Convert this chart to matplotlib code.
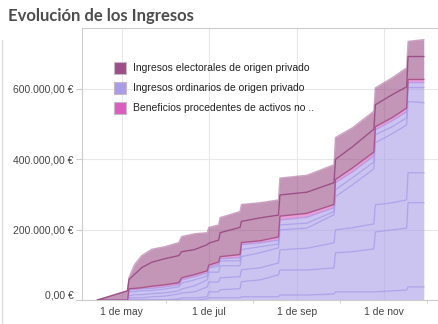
import matplotlib
matplotlib.use('Agg')
import matplotlib.pyplot as plt
from matplotlib.patches import Rectangle
from matplotlib.lines import Line2D
import numpy as np
import pandas as pd

# Datos (miles de euros, acumulados por capa)
fechas = pd.to_datetime([
    '2015-04-14', '2015-05-05', '2015-05-06', '2015-05-10', '2015-05-15',
    '2015-05-22', '2015-05-31', '2015-06-10', '2015-06-12', '2015-06-21',
    '2015-06-30', '2015-07-01', '2015-07-08', '2015-07-09', '2015-07-23',
    '2015-07-24', '2015-08-06', '2015-08-19', '2015-08-20', '2015-09-08',
    '2015-09-27', '2015-09-28', '2015-10-10', '2015-10-25', '2015-10-26',
    '2015-11-07', '2015-11-17', '2015-11-18', '2015-11-29'])

ord_1 = [0, 0, 0, 0, 0, 0, 0, 0, 0, 0, 3, 6, 6, 6, 6, 9, 9, 9, 14, 14,
         17, 23, 23, 23, 23, 26, 28, 37, 37]
ord_2 = [0, 0, 0, 0, 0, 0, 0, 3, 6, 6, 6, 17, 17, 23, 26, 43, 48, 62, 71, 71,
         74, 111, 114, 122, 170, 173, 176, 239, 239]
ord_3 = [0, 0, 6, 6, 6, 9, 11, 14, 14, 17, 28, 28, 28, 34, 34, 34, 34, 34, 57, 62,
         71, 65, 68, 71, 77, 77, 80, 85, 85]
ord_4 = [0, 0, 6, 9, 9, 9, 9, 9, 11, 17, 20, 28, 28, 34, 31, 37, 43, 43, 57, 57,
         80, 94, 122, 156, 176, 196, 213, 202, 199]
ord_5 = [0, 0, 11, 9, 11, 9, 11, 11, 17, 17, 11, 11, 17, 14, 14, 20, 17, 11, 14, 14,
         9, 20, 20, 20, 23, 20, 20, 40, 43]
ord_6 = [0, 0, 6, 6, 6, 6, 6, 6, 9, 9, 9, 3, 6, 6, 9, 14, 11, 11, 14, 17,
         11, 20, 17, 17, 14, 17, 17, 14, 14]
benef = [0, 0, 3, 3, 3, 6, 6, 6, 6, 6, 6, 6, 6, 6, 9, 6, 6, 9, 11, 11,
         9, 9, 11, 11, 9, 9, 11, 9, 9]
elect_1 = [0, 26, 26, 40, 57, 68, 74, 77, 74, 71, 74, 62, 62, 68, 77, 60, 65, 62, 60, 60,
           62, 57, 60, 65, 62, 65, 60, 65, 65]
elect_2 = [0, 0, 6, 28, 34, 37, 34, 37, 43, 45, 34, 45, 43, 43, 45, 48, 43, 43, 48, 48,
           51, 62, 54, 51, 48, 48, 54, 43, 48]

leyenda = ['Ingresos electorales de origen privado',
           'Ingresos ordinarios de origen privado',
           'Beneficios procedentes de activos no ..']
yticks = [0, 200000, 400000, 600000]
ytick_labels = ['0,00 €', '200.000,00 €', '400.000,00 €', '600.000,00 €']
xticks = pd.to_datetime(['2015-05-01', '2015-07-01', '2015-09-01', '2015-11-01'])
xtick_labels = ['1 de may', '1 de jul', '1 de sep', '1 de nov']
xminor = pd.to_datetime(['2015-06-01', '2015-08-01', '2015-10-01', '2015-12-01'])

MALVA = '#9b4f86'
MORADO = '#a99de8'
ROSA = '#dd5cbf'

W, H = 438, 324
fig = plt.figure(figsize=(W / 100, H / 100), dpi=100)
ax = fig.add_axes([82 / W, 1 - 300 / H, (W - 82) / W, 272 / H])

capas = [ord_1, ord_2, ord_3, ord_4, ord_5, ord_6, benef, elect_1, elect_2]
colores = [MORADO] * 6 + [ROSA] + [MALVA] * 2
lineas = [(MORADO, 0.8)] * 6 + [('#a8508a', 0.9), (MALVA, 1.0), (MALVA, 0.5)]
base = np.zeros(len(fechas))
for vals, c, (lc, la) in zip(capas, colores, lineas):
    top = base + np.array(vals) * 1000.0
    ax.fill_between(fechas, base, top, color=c, alpha=0.6, lw=0, zorder=2)
    ax.plot(fechas, top, color=lc, lw=1, alpha=la, zorder=3)
    base = top

ax.set_ylim(0, 772000)
ax.set_xlim(pd.Timestamp('2015-04-03'), pd.Timestamp('2015-12-09'))

ax.set_yticks(yticks)
ax.set_yticklabels(ytick_labels, fontsize=7.5, color='#444444',
                   fontfamily='Liberation Sans')
ax.get_yticklabels()[0].set_va('bottom')
ax.set_xticks(xticks)
ax.set_xticklabels(xtick_labels, fontsize=7.5, color='#444444',
                   fontfamily='Liberation Sans')
ax.set_xticks(xminor, minor=True)
ax.tick_params(axis='y', length=4.5, color='#cccccc', pad=1.5)
ax.tick_params(axis='x', which='major', length=0, pad=5)
ax.tick_params(axis='x', which='minor', length=2.5, color='#cccccc')

ax.grid(True, which='major', color='#e8e8e8', lw=0.8, zorder=0)
ax.set_axisbelow(True)
for lado in ['top', 'left', 'bottom']:
    ax.spines[lado].set_color('#cccccc')
    ax.spines[lado].set_linewidth(0.8)
ax.spines['right'].set_visible(False)

# Leyenda manual
for k, (txt, c) in enumerate(zip(leyenda, [MALVA, MORADO, ROSA])):
    yc = 68 + 20 * k
    fig.add_artist(Rectangle((114 / W, 1 - (yc + 6) / H), 12 / W, 12 / H,
                             transform=fig.transFigure, facecolor=c,
                             edgecolor='#c8b8c8', lw=0.8))
    fig.text(133 / W, 1 - yc / H, txt, fontsize=7.5, color='#222222',
             va='center', ha='left', fontfamily='Liberation Sans')

fig.text(8 / W, 1 - 16 / H, 'Evolución de los Ingresos', fontsize=12,
         fontweight='bold', color='#4d4d4d', va='center', ha='left',
         fontfamily='Lato')
fig.add_artist(Line2D([1.5 / W, 1.5 / W], [0, 1 - 40 / H],
                      transform=fig.transFigure, color='#dddddd', lw=1))

fig.savefig('out.png', dpi=100)
